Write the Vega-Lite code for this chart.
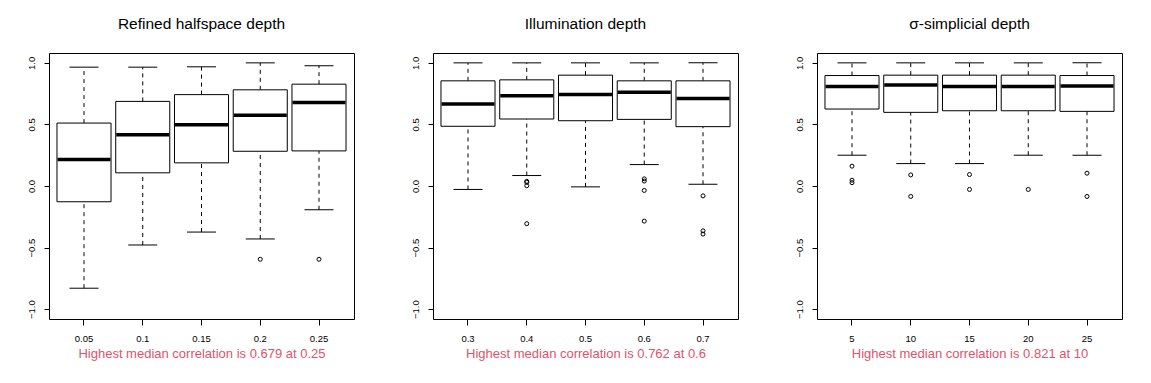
{
  "$schema": "https://vega.github.io/schema/vega-lite/v6.json",
  "background": "white",
  "padding": {"left": 25, "top": 16, "right": 5, "bottom": 5},
  "bounds": "flush",
  "spacing": 79,
  "config": {
    "font": "Liberation Sans",
    "view": {"stroke": "black", "strokeWidth": 1},
    "axis": {"grid": false, "domain": false, "tickColor": "black", "tickWidth": 1, "labelColor": "black", "labelFont": "Liberation Sans", "labelFontSize": 9.5, "titleFont": "Liberation Sans"},
    "axisX": {"tickSize": 6, "labelPadding": 8, "labelAngle": 0, "labelBaseline": "top", "titleColor": "#DF536B", "titleFontSize": 13, "titleFontWeight": "normal", "titlePadding": 5},
    "axisY": {"tickSize": 5, "labelAngle": 270, "labelAlign": "center", "labelBaseline": "alphabetic", "labelPadding": 10, "title": null},
    "title": {"fontSize": 15.5, "fontWeight": "normal", "font": "Liberation Sans", "color": "black", "anchor": "middle", "baseline": "alphabetic", "offset": 21}
  },
  "datasets": {
    "p1": [
      {"g": "0.05", "lo": -0.830, "q1": -0.128, "med": 0.215, "q3": 0.511, "hi": 0.965},
      {"g": "0.1", "lo": -0.479, "q1": 0.107, "med": 0.417, "q3": 0.687, "hi": 0.965},
      {"g": "0.15", "lo": -0.374, "q1": 0.188, "med": 0.498, "q3": 0.742, "hi": 0.968},
      {"g": "0.2", "lo": -0.430, "q1": 0.282, "med": 0.574, "q3": 0.781, "hi": 1.0},
      {"g": "0.25", "lo": -0.193, "q1": 0.285, "med": 0.679, "q3": 0.827, "hi": 0.976}
    ],
    "o1": [
      {"g": "0.2", "v": -0.595},
      {"g": "0.25", "v": -0.595}
    ],
    "p2": [
      {"g": "0.3", "lo": -0.028, "q1": 0.485, "med": 0.665, "q3": 0.854, "hi": 1.0},
      {"g": "0.4", "lo": 0.085, "q1": 0.544, "med": 0.733, "q3": 0.862, "hi": 1.0},
      {"g": "0.5", "lo": -0.007, "q1": 0.530, "med": 0.744, "q3": 0.900, "hi": 1.0},
      {"g": "0.6", "lo": 0.174, "q1": 0.541, "med": 0.762, "q3": 0.854, "hi": 1.0},
      {"g": "0.7", "lo": 0.014, "q1": 0.482, "med": 0.711, "q3": 0.854, "hi": 1.0}
    ],
    "o2": [
      {"g": "0.4", "v": 0.038},
      {"g": "0.4", "v": 0.030},
      {"g": "0.4", "v": 0.002},
      {"g": "0.4", "v": -0.306},
      {"g": "0.6", "v": 0.058},
      {"g": "0.6", "v": 0.040},
      {"g": "0.6", "v": -0.036},
      {"g": "0.6", "v": -0.285},
      {"g": "0.7", "v": -0.080},
      {"g": "0.7", "v": -0.364},
      {"g": "0.7", "v": -0.390}
    ],
    "p3": [
      {"g": "5", "lo": 0.250, "q1": 0.625, "med": 0.808, "q3": 0.897, "hi": 1.0},
      {"g": "10", "lo": 0.182, "q1": 0.598, "med": 0.821, "q3": 0.900, "hi": 1.0},
      {"g": "15", "lo": 0.182, "q1": 0.611, "med": 0.808, "q3": 0.900, "hi": 1.0},
      {"g": "20", "lo": 0.250, "q1": 0.611, "med": 0.808, "q3": 0.900, "hi": 1.0},
      {"g": "25", "lo": 0.250, "q1": 0.606, "med": 0.813, "q3": 0.897, "hi": 1.0}
    ],
    "o3": [
      {"g": "5", "v": 0.161},
      {"g": "5", "v": 0.047},
      {"g": "5", "v": 0.027},
      {"g": "10", "v": 0.090},
      {"g": "10", "v": -0.085},
      {"g": "15", "v": 0.093},
      {"g": "15", "v": -0.028},
      {"g": "20", "v": -0.028},
      {"g": "25", "v": 0.104},
      {"g": "25", "v": -0.085}
    ]
  },
  "hconcat": [
    {
      "width": 305, "height": 266,
      "title": {"text": "Refined halfspace depth"},
      "encoding": {
        "x": {"field": "g", "type": "ordinal", "scale": {"domain": ["0.05", "0.1", "0.15", "0.2", "0.25"], "paddingInner": 0, "paddingOuter": 0.0957}, "axis": {"title": "Highest median correlation is 0.679 at 0.25"}}
      },
      "layer": [
        {"data": {"name": "p1"}, "mark": {"type": "rule", "color": "black", "strokeWidth": 1, "strokeDash": [4, 4]}, "encoding": {"y": {"field": "lo", "type": "quantitative", "scale": {"domain": [-1.08, 1.08], "nice": false, "zero": false}, "axis": {"values": [-1, -0.5, 0, 0.5, 1], "format": ".1f"}}, "y2": {"field": "q1"}}},
        {"data": {"name": "p1"}, "mark": {"type": "rule", "color": "black", "strokeWidth": 1, "strokeDash": [4, 4]}, "encoding": {"y": {"field": "q3", "type": "quantitative"}, "y2": {"field": "hi"}}},
        {"data": {"name": "p1"}, "mark": {"type": "tick", "color": "black", "opacity": 1, "size": 29, "thickness": 1}, "encoding": {"y": {"field": "lo", "type": "quantitative"}}},
        {"data": {"name": "p1"}, "mark": {"type": "tick", "color": "black", "opacity": 1, "size": 29, "thickness": 1}, "encoding": {"y": {"field": "hi", "type": "quantitative"}}},
        {"data": {"name": "p1"}, "mark": {"type": "bar", "fill": "white", "stroke": "black", "strokeWidth": 1, "width": {"band": 0.92}}, "encoding": {"y": {"field": "q1", "type": "quantitative"}, "y2": {"field": "q3"}}},
        {"data": {"name": "p1"}, "mark": {"type": "tick", "color": "black", "opacity": 1, "size": 53, "thickness": 3.5}, "encoding": {"y": {"field": "med", "type": "quantitative"}}},
        {"data": {"name": "o1"}, "mark": {"type": "point", "shape": "circle", "filled": false, "color": "black", "size": 16, "strokeWidth": 1, "opacity": 1}, "encoding": {"y": {"field": "v", "type": "quantitative"}}}
      ]
    },
    {
      "width": 305, "height": 266,
      "title": {"text": "Illumination depth"},
      "encoding": {
        "x": {"field": "g", "type": "ordinal", "scale": {"domain": ["0.3", "0.4", "0.5", "0.6", "0.7"], "paddingInner": 0, "paddingOuter": 0.0957}, "axis": {"title": "Highest median correlation is 0.762 at 0.6"}}
      },
      "layer": [
        {"data": {"name": "p2"}, "mark": {"type": "rule", "color": "black", "strokeWidth": 1, "strokeDash": [4, 4]}, "encoding": {"y": {"field": "lo", "type": "quantitative", "scale": {"domain": [-1.08, 1.08], "nice": false, "zero": false}, "axis": {"values": [-1, -0.5, 0, 0.5, 1], "format": ".1f"}}, "y2": {"field": "q1"}}},
        {"data": {"name": "p2"}, "mark": {"type": "rule", "color": "black", "strokeWidth": 1, "strokeDash": [4, 4]}, "encoding": {"y": {"field": "q3", "type": "quantitative"}, "y2": {"field": "hi"}}},
        {"data": {"name": "p2"}, "mark": {"type": "tick", "color": "black", "opacity": 1, "size": 29, "thickness": 1}, "encoding": {"y": {"field": "lo", "type": "quantitative"}}},
        {"data": {"name": "p2"}, "mark": {"type": "tick", "color": "black", "opacity": 1, "size": 29, "thickness": 1}, "encoding": {"y": {"field": "hi", "type": "quantitative"}}},
        {"data": {"name": "p2"}, "mark": {"type": "bar", "fill": "white", "stroke": "black", "strokeWidth": 1, "width": {"band": 0.92}}, "encoding": {"y": {"field": "q1", "type": "quantitative"}, "y2": {"field": "q3"}}},
        {"data": {"name": "p2"}, "mark": {"type": "tick", "color": "black", "opacity": 1, "size": 53, "thickness": 3.5}, "encoding": {"y": {"field": "med", "type": "quantitative"}}},
        {"data": {"name": "o2"}, "mark": {"type": "point", "shape": "circle", "filled": false, "color": "black", "size": 16, "strokeWidth": 1, "opacity": 1}, "encoding": {"y": {"field": "v", "type": "quantitative"}}}
      ]
    },
    {
      "width": 305, "height": 266,
      "title": {"text": "σ-simplicial depth"},
      "encoding": {
        "x": {"field": "g", "type": "ordinal", "scale": {"domain": ["5", "10", "15", "20", "25"], "paddingInner": 0, "paddingOuter": 0.0957}, "axis": {"title": "Highest median correlation is 0.821 at 10"}}
      },
      "layer": [
        {"data": {"name": "p3"}, "mark": {"type": "rule", "color": "black", "strokeWidth": 1, "strokeDash": [4, 4]}, "encoding": {"y": {"field": "lo", "type": "quantitative", "scale": {"domain": [-1.08, 1.08], "nice": false, "zero": false}, "axis": {"values": [-1, -0.5, 0, 0.5, 1], "format": ".1f"}}, "y2": {"field": "q1"}}},
        {"data": {"name": "p3"}, "mark": {"type": "rule", "color": "black", "strokeWidth": 1, "strokeDash": [4, 4]}, "encoding": {"y": {"field": "q3", "type": "quantitative"}, "y2": {"field": "hi"}}},
        {"data": {"name": "p3"}, "mark": {"type": "tick", "color": "black", "opacity": 1, "size": 29, "thickness": 1}, "encoding": {"y": {"field": "lo", "type": "quantitative"}}},
        {"data": {"name": "p3"}, "mark": {"type": "tick", "color": "black", "opacity": 1, "size": 29, "thickness": 1}, "encoding": {"y": {"field": "hi", "type": "quantitative"}}},
        {"data": {"name": "p3"}, "mark": {"type": "bar", "fill": "white", "stroke": "black", "strokeWidth": 1, "width": {"band": 0.92}}, "encoding": {"y": {"field": "q1", "type": "quantitative"}, "y2": {"field": "q3"}}},
        {"data": {"name": "p3"}, "mark": {"type": "tick", "color": "black", "opacity": 1, "size": 53, "thickness": 3.5}, "encoding": {"y": {"field": "med", "type": "quantitative"}}},
        {"data": {"name": "o3"}, "mark": {"type": "point", "shape": "circle", "filled": false, "color": "black", "size": 16, "strokeWidth": 1, "opacity": 1}, "encoding": {"y": {"field": "v", "type": "quantitative"}}}
      ]
    }
  ]
}
